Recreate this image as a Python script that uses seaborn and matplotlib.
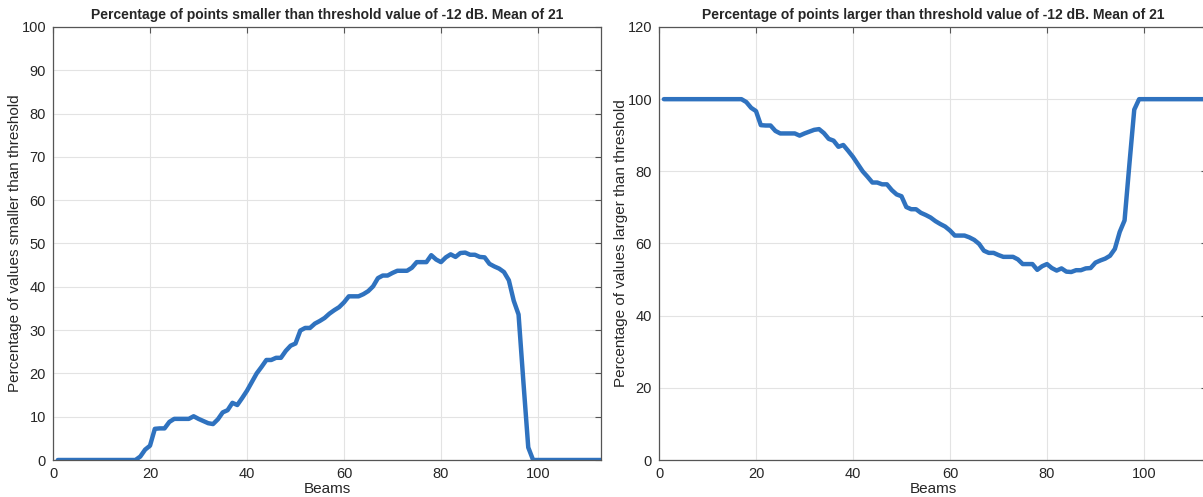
import matplotlib
matplotlib.use("Agg")
import matplotlib.pyplot as plt
import seaborn as sns
import pandas as pd

# beams 1..113
beams = list(range(1, 114))

# percentage of points below -12 dB
pct_smaller = [
    0, 0, 0, 0, 0, 0, 0, 0, 0, 0,
    0, 0, 0, 0, 0, 0, 0, 0.8, 2.4, 3.3,
    7.2, 7.3, 7.3, 8.8, 9.5, 9.5, 9.5, 9.5, 10.1, 9.5,
    9.0, 8.5, 8.3, 9.4, 11.0, 11.5, 13.2, 12.7, 14.3, 16.0,
    18.0, 20.0, 21.5, 23.1, 23.1, 23.6, 23.6, 25.2, 26.4, 26.9,
    29.9, 30.5, 30.5, 31.5, 32.1, 32.8, 33.8, 34.6, 35.3, 36.4,
    37.8, 37.8, 37.8, 38.3, 39.0, 40.1, 42.0, 42.6, 42.6, 43.2,
    43.7, 43.7, 43.7, 44.4, 45.7, 45.7, 45.7, 47.3, 46.3, 45.7,
    46.8, 47.5, 46.9, 47.8, 47.9, 47.4, 47.4, 46.9, 46.8, 45.3,
    44.7, 44.2, 43.4, 41.5, 36.8, 33.6, 18.0, 2.9, 0, 0,
    0, 0, 0, 0, 0, 0, 0, 0, 0, 0,
    0, 0, 0,
]

# percentage of points above -12 dB
pct_larger = [
    100, 100, 100, 100, 100, 100, 100, 100, 100, 100,
    100, 100, 100, 100, 100, 100, 100, 99.2, 97.6, 96.7,
    92.8, 92.7, 92.7, 91.2, 90.5, 90.5, 90.5, 90.5, 89.9, 90.5,
    91.0, 91.5, 91.7, 90.6, 89.0, 88.5, 86.8, 87.3, 85.7, 84.0,
    82.0, 80.0, 78.5, 76.9, 76.9, 76.4, 76.4, 74.8, 73.6, 73.1,
    70.1, 69.5, 69.5, 68.5, 67.9, 67.2, 66.2, 65.4, 64.7, 63.6,
    62.2, 62.2, 62.2, 61.7, 61.0, 59.9, 58.0, 57.4, 57.4, 56.8,
    56.3, 56.3, 56.3, 55.6, 54.3, 54.3, 54.3, 52.7, 53.7, 54.3,
    53.2, 52.5, 53.1, 52.2, 52.1, 52.6, 52.6, 53.1, 53.2, 54.7,
    55.3, 55.8, 56.6, 58.5, 63.2, 66.4, 82.0, 97.1, 100, 100,
    100, 100, 100, 100, 100, 100, 100, 100, 100, 100,
    100, 100, 100,
]

df = pd.DataFrame({"beam": beams, "smaller": pct_smaller, "larger": pct_larger})

sns.set_style("white")
plt.rcParams["font.family"] = ["Liberation Sans", "DejaVu Sans"]

line_col = "#2F72BF"
axis_col = "#555555"
grid_col = "#E3E3E3"
text_col = "#262626"

fig = plt.figure(figsize=(12.03, 4.97), dpi=100)
ax1 = fig.add_axes([53 / 1203, 37 / 497, 548 / 1203, 433 / 497])
ax2 = fig.add_axes([659 / 1203, 37 / 497, 548 / 1203, 433 / 497])


def style_axes(ax, ymax, ystep):
    ax.set_xlim(0, 113)
    ax.set_ylim(0, ymax)
    ax.set_xticks(range(0, 101, 20))
    ax.set_yticks(range(0, ymax + 1, ystep))
    ax.grid(True, color=grid_col, linewidth=0.8)
    ax.set_axisbelow(True)
    for sp in ax.spines.values():
        sp.set_color(axis_col)
        sp.set_linewidth(0.9)
        sp.set_visible(True)
    ax.tick_params(direction="in", length=4, width=0.8, color=axis_col,
                   top=True, right=True, labelsize=10.5, labelcolor=text_col, pad=5)
    ax.set_xlabel("Beams", fontsize=11, color=text_col, labelpad=1)
    ax.yaxis.set_label_coords(-0.056, 0.5)


sns.lineplot(data=df, x="beam", y="smaller", ax=ax1, color=line_col, linewidth=3.2)
style_axes(ax1, 100, 10)
ax1.set_ylabel("Percentage of values smaller than threshold", fontsize=11, color=text_col)
ax1.set_title("Percentage of points smaller than threshold value of -12 dB. Mean of 21",
              fontsize=10, fontweight="bold", pad=6)

sns.lineplot(data=df, x="beam", y="larger", ax=ax2, color=line_col, linewidth=3.2)
style_axes(ax2, 120, 20)
ax2.set_ylabel("Percentage of values larger than threshold", fontsize=11, color=text_col)
ax2.set_title("Percentage of points larger than threshold value of -12 dB. Mean of 21",
              fontsize=10, fontweight="bold", pad=6)

fig.savefig("out.png", dpi=100)
